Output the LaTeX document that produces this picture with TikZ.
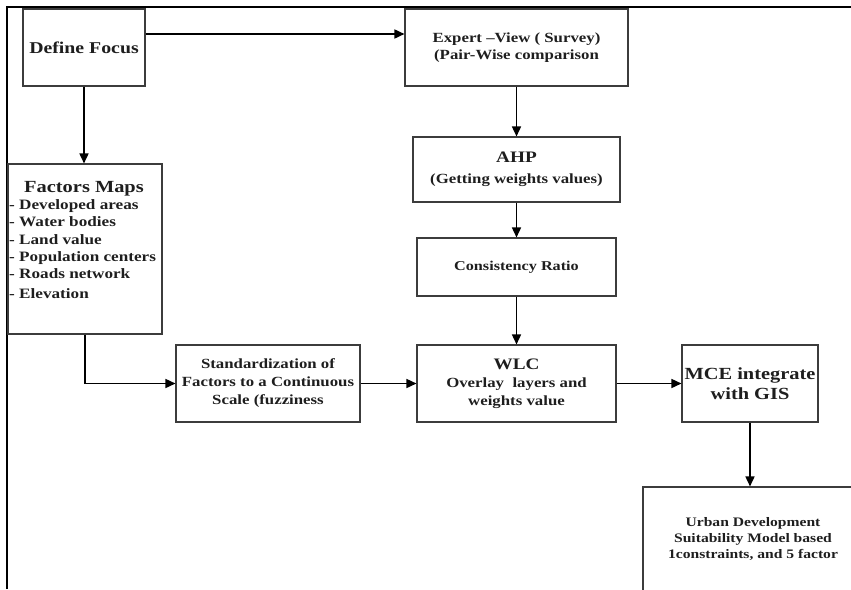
\documentclass[tikz,border=0pt]{standalone}
\usepackage{fontspec}
\setmainfont{Liberation Serif}[FakeStretch=1.2]
\usepackage{tikz}
\usetikzlibrary{arrows.meta, positioning, calc}
\definecolor{boxgray}{RGB}{60, 60, 60}
\definecolor{inkblack}{RGB}{30, 30, 30}

\begin{document}
\begin{tikzpicture}[x=1pt, y=-1pt,
    box/.style={draw=boxgray, line width=1.1pt, inner sep=0pt, align=center,
                text=inkblack, font=\bfseries\fontsize{14}{18}\selectfont},
    boxtext/.style={inner sep=0pt, align=center, text=inkblack,
                font=\bfseries\fontsize{14}{18}\selectfont},
    flow/.style={-{Triangle[length=10pt, width=9pt]}, line width=1.6pt, black}]
    \useasboundingbox (0,0) rectangle (851,589);
    \clip (0,0) rectangle (851,589);
    % outer frame (top and left only)
    \draw[line width=2pt, black] (7,589) -- (7,7) -- (851,7);
    % TOP ROW
    \node[box, minimum width=122pt, minimum height=77pt,
          font=\bfseries\fontsize{16.5}{20}\selectfont] (focus) at (84,47.5) {Define Focus};
    \node[box, minimum width=223pt, minimum height=77pt,
          font=\bfseries\fontsize{14}{17}\selectfont] (expert) at (516.5,47.5)
          {Expert --View ( Survey)\\(Pair-Wise comparison};
    % AHP column
    \node[box, minimum width=207pt, minimum height=65pt] (ahp) at (516.5,169.5)
          {{\fontsize{16}{19}\selectfont AHP}\\[3pt](Getting weights values)};
    \node[box, minimum width=199pt, minimum height=58pt,
          font=\bfseries\fontsize{13.5}{16}\selectfont] (consist) at (516.5,267) {Consistency Ratio};
    % Factors maps (box + list)
    \node[box, minimum width=154pt, minimum height=170pt] (factors) at (85,249) {};
    \node[boxtext, anchor=base, font=\bfseries\fontsize{17}{20}\selectfont]
          (factorstitle) at (84,192) {Factors Maps};
    \node[boxtext, anchor=base west, font=\bfseries\fontsize{14.3}{17}\selectfont]
          (developed) at (9,209) {- Developed areas};
    \node[boxtext, anchor=base west, font=\bfseries\fontsize{14.3}{17}\selectfont]
          (water) at (9,226) {- Water bodies};
    \node[boxtext, anchor=base west, font=\bfseries\fontsize{14.3}{17}\selectfont]
          (landvalue) at (9,244) {- Land value};
    \node[boxtext, anchor=base west, font=\bfseries\fontsize{14.3}{17}\selectfont]
          (population) at (9,261) {- Population centers};
    \node[boxtext, anchor=base west, font=\bfseries\fontsize{14.3}{17}\selectfont]
          (roads) at (9,278) {- Roads network};
    \node[boxtext, anchor=base west, font=\bfseries\fontsize{14.3}{17}\selectfont]
          (elevation) at (9,298) {- Elevation};
    % MIDDLE ROW
    \node[box, minimum width=184pt, minimum height=77pt] (stand) at (268,383.5)
          {Standardization of\\Factors to a Continuous\\Scale (fuzziness};
    \node[box, minimum width=199pt, minimum height=77pt] (wlc) at (516.5,383.5)
          {{\fontsize{16}{18}\selectfont WLC}\\Overlay\ \ layers and\\weights value};
    \node[box, minimum width=136pt, minimum height=77pt,
          font=\bfseries\fontsize{17}{20}\selectfont] (mce) at (750,383.5)
          {MCE integrate\\with GIS};
    % Result (runs off the page)
    \node[box, minimum width=220pt, minimum height=116pt] (urban) at (753,545) {};
    \node[boxtext, font=\bfseries\fontsize{13}{16}\selectfont] (urbantext) at (753,539)
          {Urban Development\\Suitability Model based\\1constraints, and 5 factor};
    % Arrows
    \draw[flow] ([yshift=13.5pt]focus.east) -- ([yshift=13.5pt]expert.west);
    \draw[flow] (focus.south) -- (focus.south |- factors.north);
    \draw[flow] (expert.south) -- (ahp.north);
    \draw[flow] (ahp.south) -- (consist.north);
    \draw[flow] (consist.south) -- (wlc.north);
    \draw[flow] (factors.south) |- (stand.west);
    \draw[flow] (stand.east) -- (wlc.west);
    \draw[flow] (wlc.east) -- (mce.west);
    \draw[flow] (mce.south) -- (mce.south |- urban.north);
\end{tikzpicture}
\end{document}
